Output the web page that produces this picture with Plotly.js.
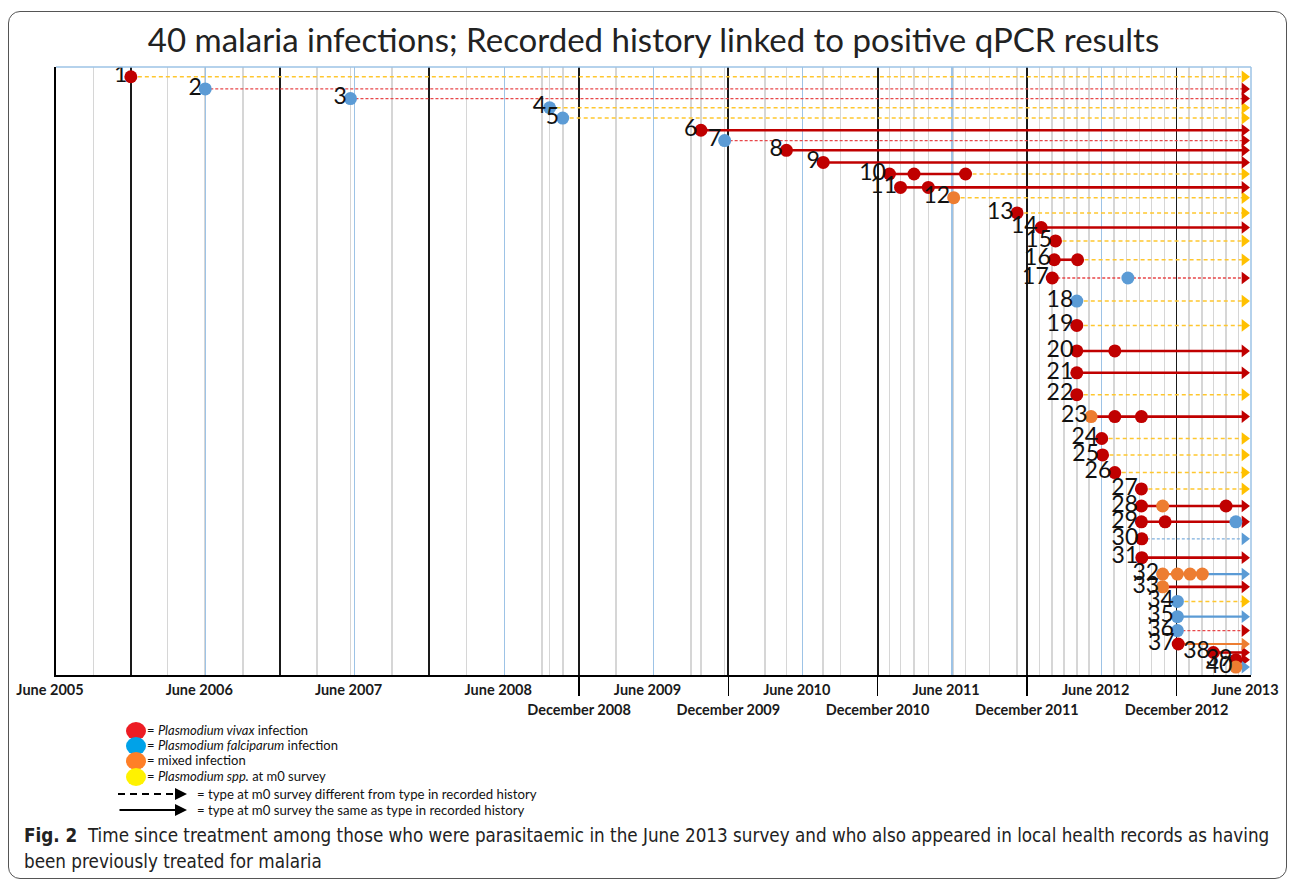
<!DOCTYPE html>
<html>
<head>
<meta charset="utf-8">
<script src="https://cdn.plot.ly/plotly-3.0.1.min.js"></script>
<style>
html,body{margin:0;padding:0;background:#fff;}
#chart{position:absolute;left:0;top:0;width:1292px;height:881px;}
#frame{position:absolute;left:8px;top:11px;width:1277px;height:866px;border:1.5px solid #555;border-radius:12px;pointer-events:none;z-index:5;}
</style>
</head>
<body>
<div id="chart"></div>
<div id="frame"></div>
<script>
// ---------------- DATA ----------------
const infectionIds = ['1','2','3','4','5','6','7','8','9','10','11','12','13','14','15','16','17','18','19','20',
  '21','22','23','24','25','26','27','28','29','30','31','32','33','34','35','36','37','38','39','40'];

// vertical level of each infection row (as plotted in the original)
const rowLevel = [98.4,96.4,94.8,93.3,91.6,89.6,87.9,86.3,84.3,82.4,80.2,78.5,76.0,73.6,71.4,68.3,65.3,61.5,57.5,53.3,
  49.7,46.1,42.5,38.9,36.2,33.3,30.6,27.8,25.2,22.4,19.3,16.6,14.5,12.1,9.6,7.3,5.1,3.7,2.5,1.3];

// recorded treatment dates (health records)
const treatmentDates = [
  ['2005-12-01'], ['2006-06-01'], ['2007-05-22'], ['2008-09-20'], ['2008-10-22'],
  ['2009-09-25'], ['2009-11-22'], ['2010-04-22'], ['2010-07-21'],
  ['2010-12-30','2011-02-28','2011-07-04'], ['2011-01-26','2011-04-04'],
  ['2011-06-05'], ['2011-11-07'], ['2012-01-05'], ['2012-02-09'],
  ['2012-02-06','2012-04-03'], ['2012-02-01','2012-08-04'],
  ['2012-04-01'], ['2012-04-01'], ['2012-04-01','2012-07-03'], ['2012-04-01'], ['2012-04-01'],
  ['2012-05-06','2012-07-03','2012-09-06'], ['2012-06-01'], ['2012-06-03'], ['2012-07-03'], ['2012-09-06'],
  ['2012-09-06','2012-10-28','2013-04-01'], ['2012-09-06','2012-11-03','2013-04-25'],
  ['2012-09-07'], ['2012-09-07'], ['2012-10-28','2012-12-03','2013-01-03','2013-02-02'],
  ['2012-10-28'], ['2012-12-03'], ['2012-12-03'], ['2012-12-03'], ['2012-12-05'],
  ['2013-03-01'], ['2013-04-25'], ['2013-04-25']
];

// V = P. vivax, F = P. falciparum, M = mixed
const treatmentTypes = [
  ['V'],['F'],['F'],['F'],['F'],['V'],['F'],['V'],['V'],['V','V','V'],['V','V'],['M'],['V'],['V'],['V'],
  ['V','V'],['V','F'],['F'],['V'],['V','V'],['V'],['V'],['M','V','V'],['V'],['V'],['V'],['V'],
  ['V','M','V'],['V','V','F'],['V'],['V'],['M','M','M','M'],['M'],['F'],['F'],['F'],['V'],['V'],['V'],['M']
];

// type at the m0 survey (June 2013); S = Plasmodium spp.
const m0Type = ['S','V','V','S','S','V','V','V','V','S','V','S','S','V','S','S','V','S','S','V',
  'V','S','V','S','S','S','S','V','V','F','V','F','V','S','F','V','M','V','V','F'];

// whether type at m0 survey is the same as the type in recorded history
const m0SameAsHistory = [false,false,false,false,false,true,false,true,true,false,true,false,false,true,false,false,false,false,false,true,
  true,false,true,false,false,false,false,true,true,false,true,true,true,false,true,false,true,true,true,true];

// link between repeated recorded treatments (rows with several records)
const historyLinkType = [null,null,null,null,null,null,null,null,null,'V','V',null,null,null,null,'V','V',null,null,'V',
  null,null,'V',null,null,null,null,'V','V',null,null,'M',null,null,null,null,null,null,null,null];
const historyLinkSame = [null,null,null,null,null,null,null,null,null,true,true,null,null,null,null,true,false,null,null,true,
  null,null,true,null,null,null,null,true,true,null,null,true,null,null,null,null,null,null,null,null];

const surveyDate = '2013-05-16';

const juneTickDates = ['2005-06-01','2006-06-01','2007-06-01','2008-06-01','2009-06-01','2010-06-01','2011-06-01','2012-06-01','2013-06-01'];
const juneTickLabels = ['June 2005','June 2006','June 2007','June 2008','June 2009','June 2010','June 2011','June 2012','June 2013'];
const decemberGridDates = ['2005-12-01','2006-12-01','2007-12-01','2008-12-01','2009-12-01','2010-12-01','2011-12-01','2012-12-01'];
const decemberTickDates = ['2008-12-01','2009-12-01','2010-12-01','2011-12-01','2012-12-01'];
const decemberTickLabels = ['December 2008','December 2009','December 2010','December 2011','December 2012'];

const legendLabels = ['= <i>Plasmodium vivax</i> infection','= <i>Plasmodium falciparum</i> infection','= mixed infection','= <i>Plasmodium spp.</i> at m0 survey'];
const legendLineLabels = ['= type at m0 survey different from type in recorded history','= type at m0 survey the same as type in recorded history'];

const titleText = '40 malaria infections; Recorded history linked to positive qPCR results';
const captionLine1 = '<b>Fig. 2</b>  Time since treatment among those who were parasitaemic in the June 2013 survey and who also appeared in local health records as having';
const captionLine2 = 'been previously treated for malaria';

// ---------------- STYLE ----------------
const X0 = '2005-06-01', X1 = '2013-06-01';
const pointColor = {V:'#c00000', F:'#5b9bd5', M:'#ed7d31'};
const arrowColor = {V:'#c00000', F:'#5b9bd5', M:'#ed7d31', S:'#ffc000'};
const lineStyle = {
  'V-solid': {color:'#c00000', width:2.6, dash:'solid'},
  'F-solid': {color:'#5b9bd5', width:2.2, dash:'solid'},
  'M-solid': {color:'#ed7d31', width:2.2, dash:'solid'},
  'V-dash':  {color:'#e8474a', width:1.3, dash:'3px,2px'},
  'F-dash':  {color:'#7fb0de', width:1.3, dash:'3px,2px'},
  'S-dash':  {color:'#ffc72e', width:1.5, dash:'4px,3px'}
};
const FONT = 'Lato, "Open Sans", sans-serif';
const NARROW = '"Liberation Sans Narrow", "DejaVu Sans Condensed", "Open Sans", sans-serif';

// ---------------- TRACES ----------------
const segs = {};
function addSeg(key, x0, x1, y) {
  if (!segs[key]) segs[key] = {x:[], y:[]};
  segs[key].x.push(x0, x1, null);
  segs[key].y.push(y, y, null);
}
const arrows = {};
const pts = {V:{x:[],y:[]}, F:{x:[],y:[]}, M:{x:[],y:[]}};

infectionIds.forEach((id, i) => {
  const d = treatmentDates[i], t = treatmentTypes[i], y = rowLevel[i];
  const last = d[d.length - 1];
  if (d.length > 1 && historyLinkType[i]) {
    addSeg(historyLinkType[i] + (historyLinkSame[i] ? '-solid' : '-dash'), d[0], last, y);
  }
  addSeg(m0Type[i] + (m0SameAsHistory[i] ? '-solid' : '-dash'), last, surveyDate, y);
  if (!arrows[m0Type[i]]) arrows[m0Type[i]] = {x:[], y:[]};
  arrows[m0Type[i]].x.push(surveyDate);
  arrows[m0Type[i]].y.push(y);
  d.forEach((dd, k) => { pts[t[k]].x.push(dd); pts[t[k]].y.push(y); });
});

const traces = [];
// empty traces so that the overlaid grid / label axes get drawn
['x2','x3','x4'].forEach(ax => traces.push({type:'scatter', mode:'markers', x:[], y:[], xaxis:ax, yaxis:'y',
  hoverinfo:'skip', showlegend:false}));
Object.keys(segs).forEach(k => {
  traces.push({type:'scatter', mode:'lines', x:segs[k].x, y:segs[k].y, line:lineStyle[k],
    hoverinfo:'skip', showlegend:false, connectgaps:false});
});
Object.keys(arrows).forEach(k => {
  traces.push({type:'scatter', mode:'markers', x:arrows[k].x, y:arrows[k].y,
    marker:{symbol:'triangle-right', size:11, color:arrowColor[k]}, hoverinfo:'skip', showlegend:false});
});
Object.keys(pts).forEach(k => {
  traces.push({type:'scatter', mode:'markers', x:pts[k].x, y:pts[k].y,
    marker:{symbol:'circle', size:13, color:pointColor[k]}, hoverinfo:'skip', showlegend:false});
});
traces.push({type:'scatter', mode:'markers+text', x:treatmentDates.map(d => d[0]), y:rowLevel, text:infectionIds,
  textposition:'middle left', textfont:{family:FONT, size:23, color:'#111'},
  marker:{size:4, opacity:0}, hoverinfo:'skip', showlegend:false});

// gray grid: quarterly until 2011, monthly from 2012, plus recorded dates before 2012
const grayGrid = [];
for (let yr = 2005; yr <= 2013; yr++) {
  for (let m = 1; m <= 12; m++) {
    if (m === 6 || m === 12) continue;
    const s = yr + '-' + String(m).padStart(2,'0') + '-01';
    if (s <= X0 || s >= X1) continue;
    if (yr >= 2012 || m === 3 || m === 9) grayGrid.push(s);
  }
}
treatmentDates.forEach(d => d.forEach(dd => { if (dd < '2012-01-01' && grayGrid.indexOf(dd) < 0) grayGrid.push(dd); }));

// ---------------- LAYOUT ----------------
const PL = 56, PR = 1251, PT = 67, PB = 675;
const PX = px => (px - PL) / (PR - PL);
const PY = py => (PB - py) / (PB - PT);

const baseAx = {type:'date', range:[X0, X1], autorange:false, zeroline:false, fixedrange:true};

const shapes = [
  {type:'line', xref:'paper', yref:'paper', x0:0, x1:1, y0:1, y1:1, line:{color:'#9dc3e6', width:1.5}},
  {type:'line', xref:'paper', yref:'paper', x0:1, x1:1, y0:0, y1:1, line:{color:'#9dc3e6', width:1.5}}
];
const legendCircleColors = ['#ed1c24','#00a2e8','#ff7f27','#fff200'];
const legendY = [731, 746, 761, 777];
legendCircleColors.forEach((c, i) => {
  shapes.push({type:'circle', xref:'paper', yref:'paper', xsizemode:'pixel', ysizemode:'pixel',
    xanchor:PX(136), yanchor:PY(legendY[i]), x0:-10, x1:10, y0:-9, y1:9,
    fillcolor:c, line:{width:0}});
});
shapes.push({type:'line', xref:'paper', yref:'paper', x0:PX(118), x1:PX(176), y0:PY(794), y1:PY(794),
  line:{color:'#000', width:2.2, dash:'7px,5px'}});

const annotations = [];
legendLabels.forEach((t, i) => {
  annotations.push({xref:'paper', yref:'paper', x:PX(145), y:PY(legendY[i] - 1), xanchor:'left', yanchor:'middle',
    text:t, showarrow:false, font:{family:FONT, size:13, color:'#111'}});
});
legendLineLabels.forEach((t, i) => {
  annotations.push({xref:'paper', yref:'paper', x:PX(195), y:PY(794 + 16 * i), xanchor:'left', yanchor:'middle',
    text:t, showarrow:false, font:{family:FONT, size:13.2, color:'#111'}});
});
annotations.push({xref:'paper', yref:'paper', x:PX(187), y:PY(794), ax:-9, ay:0, axref:'pixel', ayref:'pixel',
  text:'', showarrow:true, arrowhead:2, arrowsize:1.2, arrowwidth:2, arrowcolor:'#000'});
annotations.push({xref:'paper', yref:'paper', x:PX(187), y:PY(810), ax:-69, ay:0, axref:'pixel', ayref:'pixel',
  text:'', showarrow:true, arrowhead:2, arrowsize:1.2, arrowwidth:2, arrowcolor:'#000'});
annotations.push({xref:'paper', yref:'paper', x:PX(22), y:PY(835), xanchor:'left', yanchor:'middle',
  text:captionLine1, showarrow:false, font:{family:NARROW, size:18.7, color:'#222'}});
annotations.push({xref:'paper', yref:'paper', x:PX(22), y:PY(861), xanchor:'left', yanchor:'middle',
  text:captionLine2, showarrow:false, font:{family:NARROW, size:18.7, color:'#222'}});

const tickFont = {family:FONT, size:14.5, color:'#1a1a1a', weight:'bold'};
const layout = {
  width:1292, height:881,
  margin:{l:PL, r:1292 - PR, t:PT, b:881 - PB, pad:0},
  paper_bgcolor:'#fff', plot_bgcolor:'#fff',
  showlegend:false,
  title:{text:titleText, font:{family:FONT, size:33, color:'#222'}, x:0.5, xref:'paper', xanchor:'center',
    y:1 - 40/881, yref:'container', yanchor:'middle'},
  xaxis: Object.assign({}, baseAx, {tickmode:'array', tickvals:grayGrid, showticklabels:false, ticks:'',
    showgrid:true, gridcolor:'#d6d6d6', gridwidth:1.6, showline:true, linecolor:'#000', linewidth:2}),
  xaxis2: Object.assign({}, baseAx, {overlaying:'x', anchor:'y', side:'bottom', tickmode:'array', tickvals:juneTickDates,
    ticktext:juneTickLabels, ticks:'', showgrid:true, gridcolor:'#9dc3e6', gridwidth:1.3, showline:false,
    ticklabelshift:-6, ticklabelstandoff:4, tickfont:tickFont}),
  xaxis3: Object.assign({}, baseAx, {overlaying:'x', anchor:'y', side:'bottom', tickmode:'array', tickvals:decemberGridDates,
    showticklabels:false, ticks:'', showgrid:true, gridcolor:'#1a1a1a', gridwidth:1.8, showline:false}),
  xaxis4: Object.assign({}, baseAx, {overlaying:'x', anchor:'y', side:'bottom', tickmode:'array', tickvals:decemberTickDates,
    ticktext:decemberTickLabels, ticks:'outside', ticklen:20, tickwidth:1.5, tickcolor:'#000', showgrid:false, showline:false,
    ticklabelstandoff:2, tickfont:tickFont}),
  yaxis:{range:[0,100], autorange:false, showgrid:false, zeroline:false, showticklabels:false, ticks:'',
    showline:true, linecolor:'#000', linewidth:2, fixedrange:true},
  shapes:shapes,
  annotations:annotations
};

Plotly.newPlot('chart', traces, layout, {displayModeBar:false, staticPlot:true});
</script>
</body>
</html>
